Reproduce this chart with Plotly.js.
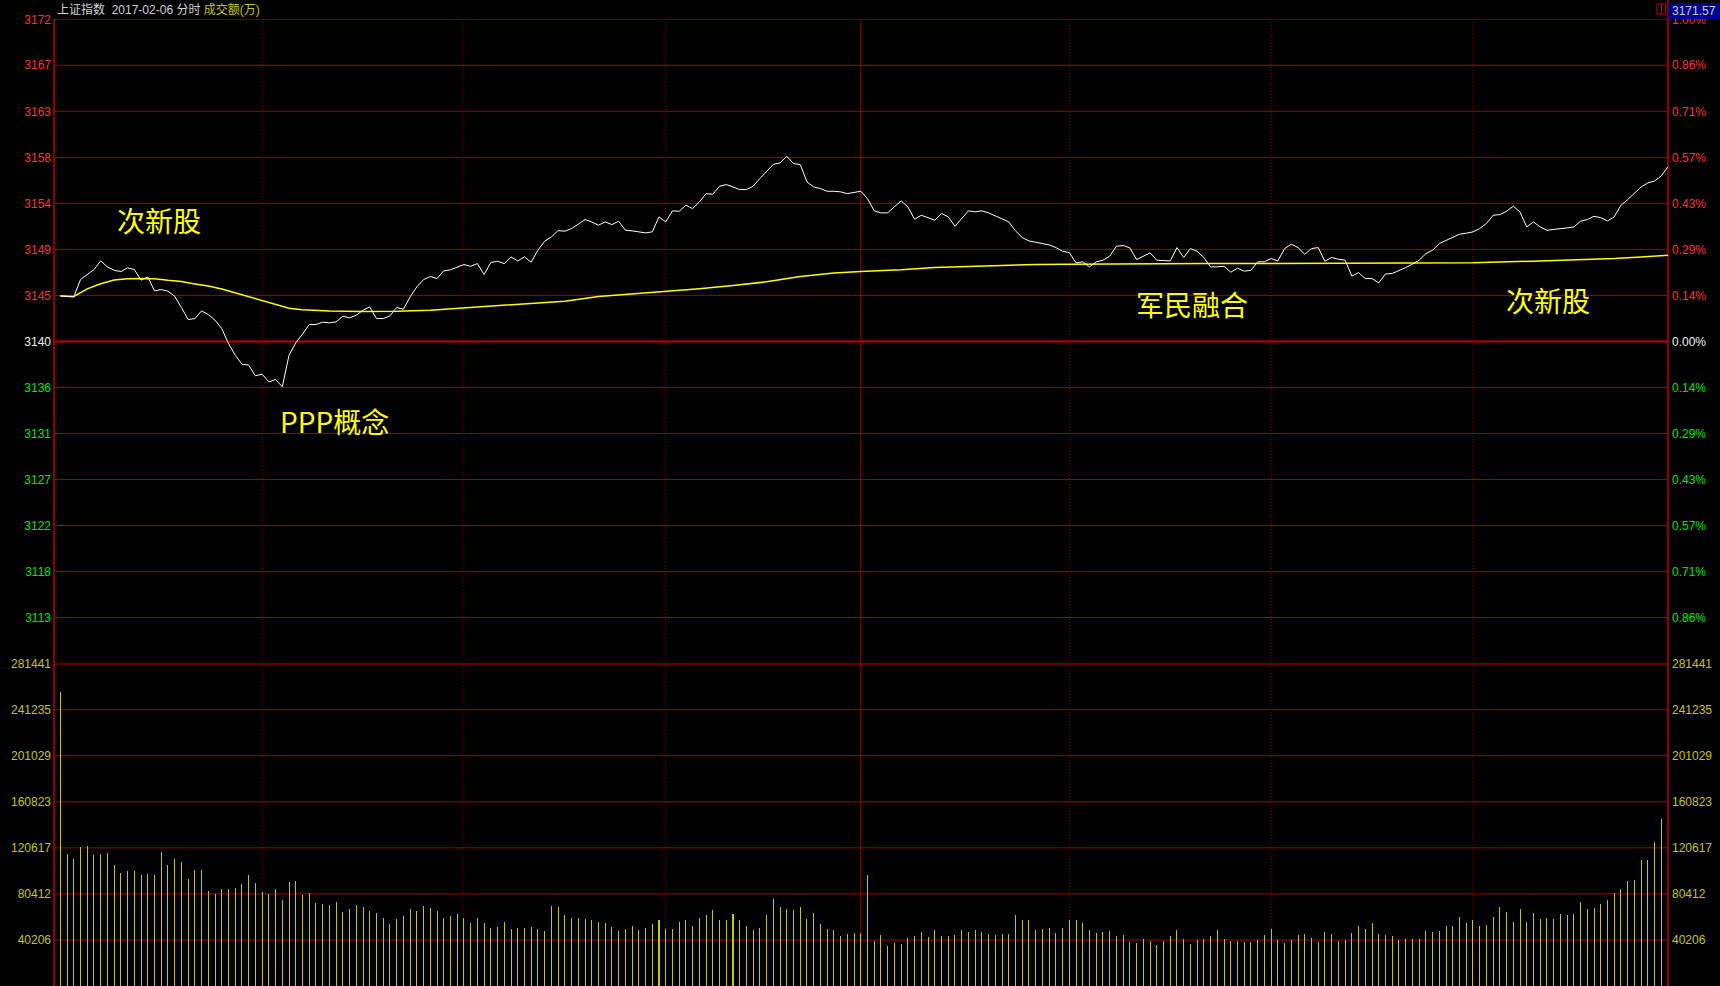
<!DOCTYPE html>
<html><head><meta charset="utf-8">
<script src="https://cdn.plot.ly/plotly-3.0.1.min.js"></script>
<style>html,body{margin:0;padding:0;background:#000;}#chart{width:1720px;height:986px;}
#chart .barlayer path{shape-rendering:crispEdges !important;}</style>
</head><body><div id="chart"></div>
<script>
// ---------------- data ----------------
const prevClose = 3140.17;
const priceTickVals = [3113.26,3117.74,3122.23,3126.71,3131.20,3135.69,3140.17,3144.66,3149.14,3153.63,3158.11,3162.60,3167.09,3171.57];
const priceTickLabels = ['3113','3118','3122','3127','3131','3136','3140','3145','3149','3154','3158','3163','3167','3172'];
const pctTickLabels = ['0.86%','0.71%','0.57%','0.43%','0.29%','0.14%','0.00%','0.14%','0.29%','0.43%','0.57%','0.71%','0.86%','1.00%'];
const priceAxisMin = 3108.77;
const priceAxisMax = 3171.57;
const volTickVals = [40206,80412,120617,160823,201029,241235,281441];
const volTickLabels = ['40206','80412','120617','160823','201029','241235','281441'];
const gridMinutes = [30,60,90,150,180,210];
const middayMinute = 119;
const titleName = '上证指数';
const titleDate = '2017-02-06 分时';
const titleVol = '成交额(万)';
const lastPriceLabel = '3171.57';
const notes = ['次新股','PPP概念','军民融合','次新股'];
const noteMinute = [14.7, 40.8, 168.2, 221.1];
const notePrice = [3151.97, 3132.45, 3143.83, 3144.22];

const price = [
3144.61,3144.55,3144.51,3146.20,3146.72,3147.18,3148.02,3147.44,3147.11,3146.98,
3147.34,3147.18,3146.14,3146.46,3145.10,3145.23,3145.07,3144.58,3143.48,3142.31,
3142.40,3143.15,3142.79,3142.24,3141.43,3139.97,3138.83,3137.95,3137.86,3136.82,
3136.98,3136.23,3136.46,3135.75,3138.83,3140.03,3140.88,3141.82,3141.82,3142.05,
3141.98,3142.08,3142.63,3142.47,3142.73,3143.22,3143.54,3142.40,3142.40,3142.66,
3143.48,3143.31,3144.51,3145.49,3146.20,3146.50,3146.30,3147.05,3147.15,3147.40,
3147.67,3147.50,3147.76,3146.69,3147.86,3147.99,3147.76,3148.41,3148.02,3148.41,
3147.89,3149.06,3149.94,3150.36,3150.98,3150.91,3151.17,3151.60,3152.05,3151.82,
3151.50,3151.82,3151.56,3151.89,3151.01,3150.95,3150.85,3150.75,3150.85,3152.31,
3151.82,3152.90,3152.86,3153.45,3153.12,3153.77,3154.58,3154.52,3155.30,3155.46,
3155.23,3154.97,3154.97,3155.30,3156.05,3156.70,3157.44,3157.57,3158.22,3157.51,
3157.41,3155.72,3155.23,3155.07,3154.81,3154.81,3154.75,3154.58,3154.68,3154.81,
3154.08,3152.90,3152.70,3152.70,3153.30,3153.87,3153.28,3152.08,3152.47,3152.25,
3151.99,3152.64,3152.31,3151.40,3152.15,3152.90,3152.80,3152.90,3152.70,3152.44,
3152.12,3151.82,3150.95,3150.30,3149.97,3149.84,3149.71,3149.58,3149.32,3148.96,
3148.83,3147.83,3147.93,3147.44,3147.93,3148.09,3148.48,3149.45,3149.52,3149.29,
3148.15,3148.51,3148.80,3148.09,3148.02,3148.02,3149.32,3148.35,3149.22,3148.96,
3148.35,3147.44,3147.44,3147.50,3146.92,3147.31,3147.02,3147.11,3147.93,3147.93,
3148.25,3148.02,3149.22,3149.65,3149.32,3148.67,3149.22,3149.32,3147.99,3148.35,
3148.18,3148.09,3146.53,3146.88,3146.30,3146.30,3145.88,3146.75,3146.79,3147.05,
3147.37,3147.70,3148.09,3148.73,3149.06,3149.71,3150.03,3150.36,3150.62,3150.72,
3150.85,3151.17,3151.66,3152.47,3152.53,3152.86,3153.35,3152.79,3151.33,3151.82,
3151.33,3151.01,3151.07,3151.17,3151.24,3151.33,3151.89,3152.05,3152.37,3152.24,
3151.92,3152.31,3153.44,3153.99,3154.58,3155.23,3155.62,3155.81,3156.30,3157.20
];

const avgMinute = [0,2,4,6,8,10,12,14,16,18,20,22,24,26,28,30,32,34,36,40,45,50,55,60,65,70,75,80,85,90,95,100,105,110,115,119,125,130,135,140,145,150,160,170,180,190,200,210,220,226,231,235,239];
const avgPrice  = [3144.61,3144.55,3145.30,3145.80,3146.15,3146.28,3146.30,3146.27,3146.13,3146.02,3145.78,3145.57,3145.28,3144.90,3144.50,3144.10,3143.72,3143.40,3143.25,3143.15,3143.10,3143.12,3143.22,3143.45,3143.66,3143.90,3144.10,3144.55,3144.78,3145.03,3145.30,3145.62,3145.98,3146.50,3146.83,3147.00,3147.15,3147.38,3147.50,3147.62,3147.68,3147.70,3147.76,3147.76,3147.76,3147.76,3147.80,3147.83,3148.02,3148.12,3148.25,3148.41,3148.57];

const volume = [
256400,115000,110600,121300,122200,114100,115000,116100,105600,98400,
100400,100400,96600,97800,96600,117000,105600,110600,108300,93400,
101300,101300,82900,80300,84700,84700,85600,89000,96900,89900,
82100,80300,84700,75100,90800,91700,79400,81200,72500,71600,
70700,73300,64600,67200,70700,69000,65500,63700,59400,54100,
58500,61100,67200,65500,69800,68100,65500,59400,61100,62900,
59400,55000,59400,55000,50600,51500,55900,49800,50600,50600,
51500,49800,48000,69800,69000,62000,59400,59400,58500,57600,
55900,55000,51500,48000,49800,52400,48900,50600,54100,57600,
49800,49800,55900,57600,52400,59400,62000,66300,57600,57600,
62900,57600,52400,48900,50600,62000,76000,69000,67200,66300,
69000,58500,63700,54100,49800,48900,43700,45400,46300,46300,
96900,39300,44500,34900,37500,36700,41900,43700,47100,42800,
48900,43700,43700,44500,48900,47100,48900,47100,45400,44500,
45400,45400,62000,57600,57600,48900,49800,50600,46300,50600,
57600,57600,55000,48900,46300,47100,48000,43700,44500,38400,
37500,41000,39300,35800,39300,43700,48900,41000,36700,40200,
41000,43700,48900,41000,39300,39300,38400,38400,40200,44500,
49800,40200,37500,40200,44500,45400,41900,38400,47100,45400,
39300,40200,46300,52400,49800,55000,45400,44500,43700,40200,
40800,40800,40800,48000,47100,48000,52400,52400,60200,55000,
57900,52400,53300,60200,69000,64600,55900,67200,55900,63700,
58500,59400,58500,62900,62000,62900,73300,67200,68100,71600,
75100,81200,84700,91700,92500,110000,110000,125700,145800,202000
];
const minutes = price.map((_, i) => i);

// ---------------- style ----------------
const W = 1720, H = 986;
const plotL = 54, plotR = 1668, plotTop = 19.3, sepY = 663.6;
const px = v => v / W, py = v => 1 - v / H;
const RED = '#ff3232', GREEN = '#00e600', WHITE = '#f0f0f0', YEL = '#c8c800';
const GRID = '#a00000', BORDER = '#c00000';
const labFont = {family: 'Liberation Sans, Arial, sans-serif', size: 12};

const colorFor = i => (i < 6 ? GREEN : (i === 6 ? WHITE : RED));
const priceText = priceTickLabels.map((t, i) => `<span style="color:${colorFor(i)}">${t}</span>`);
const pctText = pctTickLabels.map((t, i) => `<span style="color:${colorFor(i)}">${t}</span>`);

const shapes = [];
priceTickVals.forEach((v, i) => {
  shapes.push({type: 'line', xref: 'paper', yref: 'y', x0: px(plotL), x1: px(plotR), y0: v, y1: v,
    line: {color: i === 6 ? BORDER : GRID, width: i === 6 ? 2 : 1}, layer: 'below'});
});
volTickVals.forEach((v, i) => {
  const last = i === volTickVals.length - 1;
  shapes.push({type: 'line', xref: 'paper', yref: 'y2', x0: px(plotL), x1: px(plotR), y0: v, y1: v,
    line: {color: last ? BORDER : GRID, width: last ? 2 : 1}, layer: 'below'});
});
gridMinutes.forEach(m => {
  shapes.push({type: 'line', xref: 'x', yref: 'paper', x0: m, x1: m, y0: 0, y1: py(plotTop),
    line: {color: GRID, width: 1, dash: '1px,2px'}, layer: 'below'});
});
shapes.push({type: 'line', xref: 'x', yref: 'paper', x0: middayMinute, x1: middayMinute, y0: 0, y1: py(plotTop),
  line: {color: GRID, width: 1}, layer: 'below'});
shapes.push({type: 'line', xref: 'paper', yref: 'paper', x0: px(plotL), x1: px(plotL), y0: 0, y1: py(plotTop),
  line: {color: BORDER, width: 1.5}, layer: 'below'});
shapes.push({type: 'line', xref: 'paper', yref: 'paper', x0: px(plotR), x1: px(plotR), y0: 0, y1: 1,
  line: {color: BORDER, width: 1.5}, layer: 'below'});
shapes.push({type: 'rect', xref: 'paper', yref: 'paper', x0: px(1668.5), x1: px(1720), y0: py(19), y1: py(3),
  fillcolor: '#000090', line: {width: 0}, layer: 'above'});
shapes.push({type: 'rect', xref: 'paper', yref: 'paper', x0: px(1657), x1: px(1665.5), y0: py(14), y1: py(4),
  fillcolor: 'rgba(0,0,0,0)', line: {color: BORDER, width: 1}, layer: 'above'});
shapes.push({type: 'line', xref: 'paper', yref: 'paper', x0: px(1661.5), x1: px(1661.5), y0: py(14), y1: py(4),
  line: {color: BORDER, width: 1}, layer: 'above'});

const annotations = [
  {xref: 'paper', yref: 'paper', x: px(55), y: py(9.5), xanchor: 'left', yanchor: 'middle', showarrow: false,
   text: `${titleName}  ${titleDate} <span style="color:${YEL}">${titleVol}</span>`,
   font: {family: 'Liberation Sans, Noto Sans CJK SC, sans-serif', size: 12, color: '#d0d0d0'}},
  {xref: 'paper', yref: 'paper', x: px(1670), y: py(11), xanchor: 'left', yanchor: 'middle', showarrow: false,
   text: lastPriceLabel, font: {family: 'Liberation Sans, Arial, sans-serif', size: 12, color: '#d0d0d0'}}
];
notes.forEach((t, i) => annotations.push({xref: 'x', yref: 'y', x: noteMinute[i], y: notePrice[i],
  xanchor: 'center', yanchor: 'middle', showarrow: false, text: t,
  font: {family: 'Noto Sans CJK SC, sans-serif', size: 28, color: '#ffff00'}}));

const traces = [
  {type: 'bar', x: minutes, y: volume, xaxis: 'x', yaxis: 'y2', width: 0.15, cliponaxis: false,
   marker: {color: YEL, line: {width: 0}}, hoverinfo: 'skip'},
  {type: 'scatter', mode: 'lines', x: avgMinute, y: avgPrice, xaxis: 'x', yaxis: 'y',
   line: {color: '#ffff00', width: 1.5}, hoverinfo: 'skip'},
  {type: 'scatter', mode: 'lines', x: minutes, y: price, xaxis: 'x', yaxis: 'y',
   line: {color: '#ffffff', width: 1}, hoverinfo: 'skip'},
  {type: 'scatter', mode: 'lines', x: minutes, y: price, xaxis: 'x', yaxis: 'y3',
   opacity: 0, line: {width: 0}, hoverinfo: 'skip'},
  {type: 'scatter', mode: 'lines', x: minutes, y: volume, xaxis: 'x', yaxis: 'y4',
   opacity: 0, line: {width: 0}, hoverinfo: 'skip'}
];

const yPriceDomain = [py(sepY), py(plotTop)];
const yVolDomain = [0, py(sepY)];
const baseY = {showgrid: false, zeroline: false, showline: false, ticks: '', fixedrange: true,
  tickfont: labFont, ticklabelstandoff: 2};

const layout = {
  width: W, height: H, margin: {l: 0, r: 0, t: 0, b: 0},
  paper_bgcolor: '#000', plot_bgcolor: 'rgba(0,0,0,0)', showlegend: false, bargap: 0,
  xaxis: {domain: [px(plotL), px(plotR)], range: [-0.94, 239.0], showgrid: false, zeroline: false,
    showticklabels: false, ticks: '', showline: false, fixedrange: true},
  yaxis: Object.assign({}, baseY, {domain: yPriceDomain, range: [priceAxisMin, priceAxisMax],
    tickmode: 'array', tickvals: priceTickVals, ticktext: priceText, side: 'left', anchor: 'x'}),
  yaxis2: Object.assign({}, baseY, {domain: yVolDomain, range: [0, 281441],
    tickmode: 'array', tickvals: volTickVals, ticktext: volTickLabels, side: 'left', anchor: 'x',
    tickfont: Object.assign({}, labFont, {color: YEL})}),
  yaxis3: Object.assign({}, baseY, {overlaying: 'y', side: 'right', anchor: 'x', range: [priceAxisMin, priceAxisMax],
    tickmode: 'array', tickvals: priceTickVals, ticktext: pctText, ticklabelstandoff: 3}),
  yaxis4: Object.assign({}, baseY, {overlaying: 'y2', side: 'right', anchor: 'x', range: [0, 281441],
    tickmode: 'array', tickvals: volTickVals, ticktext: volTickLabels, ticklabelstandoff: 3,
    tickfont: Object.assign({}, labFont, {color: YEL})}),
  shapes: shapes, annotations: annotations
};

Plotly.newPlot('chart', traces, layout, {staticPlot: true, displayModeBar: false});
</script>
</body></html>
